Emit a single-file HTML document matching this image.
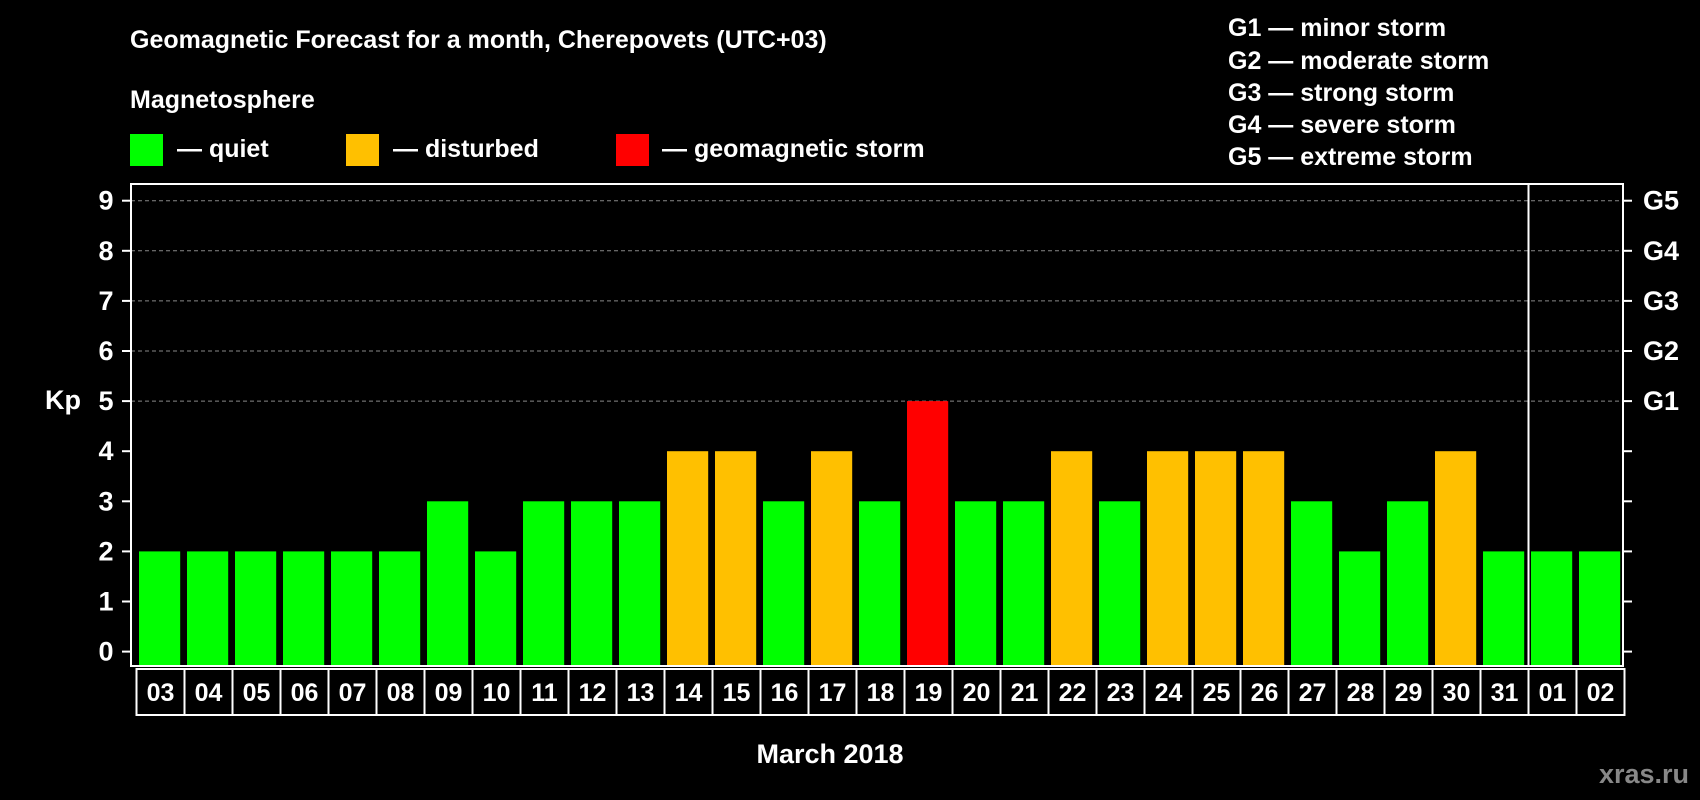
<!DOCTYPE html>
<html><head><meta charset="utf-8"><style>
body{margin:0;background:#000;}
svg{display:block;font-family:"Liberation Sans",sans-serif;font-weight:bold;}
</style></head><body>
<svg id="c" width="1700" height="800" viewBox="0 0 1700 800">
<rect width="1700" height="800" fill="#000"/>
<text x="130" y="48" fill="#fff" font-size="25">Geomagnetic Forecast for a month, Cherepovets (UTC+03)</text>
<text x="130" y="108" fill="#fff" font-size="25">Magnetosphere</text>
<g><rect x="130" y="134" width="33" height="32" fill="#00ff00"/><text x="177" y="157" fill="#fff" font-size="25">— quiet</text></g>
<g><rect x="346" y="134" width="33" height="32" fill="#ffc000"/><text x="393" y="157" fill="#fff" font-size="25">— disturbed</text></g>
<g><rect x="616" y="134" width="33" height="32" fill="#ff0000"/><text x="662" y="157" fill="#fff" font-size="25">— geomagnetic storm</text></g>
<g fill="#fff" font-size="25">
<text x="1228" y="36">G1 — minor storm</text>
<text x="1228" y="69">G2 — moderate storm</text>
<text x="1228" y="101">G3 — strong storm</text>
<text x="1228" y="133">G4 — severe storm</text>
<text x="1228" y="165">G5 — extreme storm</text>
</g>
<text x="63" y="409" fill="#fff" font-size="27" text-anchor="middle">Kp</text>
<text x="830" y="763" fill="#fff" font-size="27" text-anchor="middle">March 2018</text>
<text x="1689" y="783" fill="#888" font-size="27" text-anchor="end">xras.ru</text>
<g id="plot"></g>
</svg>
<script>
const days=["03","04","05","06","07","08","09","10","11","12","13","14","15","16","17","18","19","20","21","22","23","24","25","26","27","28","29","30","31","01","02"];
const kp=[2,2,2,2,2,2,3,2,3,3,3,4,4,3,4,3,5,3,3,4,3,4,4,4,3,2,3,4,2,2,2];
const yTicks=[0,1,2,3,4,5,6,7,8,9];
const gLabels=["G1","G2","G3","G4","G5"];
const NS="http://www.w3.org/2000/svg";
const L=131,R=1623,T=184,B=666,y0=651.6,unit=50.1,x0=137,pitch=48,bw=41.2;
const y=v=>y0-v*unit;
const xb=i=>x0+i*pitch;
const g=document.getElementById('plot');
function mk(t,a){const e=document.createElementNS(NS,t);for(const k in a)e.setAttribute(k,a[k]);g.appendChild(e);return e;}
yTicks.forEach(v=>{
  if(v>=5){const l=mk('line',{x1:L,x2:R,y1:y(v),y2:y(v),stroke:'#888','stroke-dasharray':'4,3','stroke-width':1});
  
  }
  const t1=mk('line',{x1:L-9,x2:L,y1:y(v),y2:y(v),stroke:'#fff','stroke-width':2});
  
  
  const t2=mk('line',{x1:R,x2:R+9,y1:y(v),y2:y(v),stroke:'#fff','stroke-width':2});
  
  
  const tx=mk('text',{x:106,y:y(v)+9,fill:'#fff','font-size':27,'text-anchor':'middle'});tx.textContent=v;
  
  
});
gLabels.forEach((s,i)=>{
  const tx=mk('text',{x:1643,y:y(5+i)+9,fill:'#fff','font-size':27});tx.textContent=s;
  
  
});
kp.forEach((v,i)=>{
  const c=v>=5?'#ff0000':v>=4?'#ffc000':'#00ff00';
  const r=mk('rect',{x:xb(i)+2,y:y(v),width:bw,height:y(0)+14-y(v),fill:c});
  
  
  const b=mk('rect',{x:xb(i)-0.5,y:669,width:pitch,height:46,fill:'none',stroke:'#fff','stroke-width':2});
  
  
  const tx=mk('text',{x:xb(i)+pitch/2-0.5,y:701,fill:'#fff','font-size':25,'text-anchor':'middle'});tx.textContent=days[i];
  
  
});
const fr=mk('rect',{x:L,y:T,width:R-L,height:B-T,fill:'none',stroke:'#fff','stroke-width':2});


const sx=xb(29)-0.5;
const sep=mk('line',{x1:sx,x2:sx,y1:T,y2:B,stroke:'#fff','stroke-width':2});


</script>
</body></html>
